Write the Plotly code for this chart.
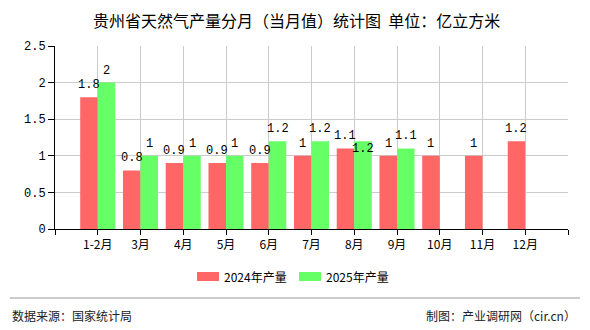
import plotly.graph_objects as go

# Monthly natural gas output of Guizhou (100 million m³)
months = ["1-2月", "3月", "4月", "5月", "6月", "7月", "8月", "9月", "10月", "11月", "12月"]
output_2024 = [1.8, 0.8, 0.9, 0.9, 0.9, 1, 1.1, 1, 1, 1, 1.2]
output_2025 = [2, 1, 1, 1, 1.2, 1.2, 1.2, 1.1, None, None, None]
series_names = ["2024年产量", "2025年产量"]
y_ticks = [0, 0.5, 1, 1.5, 2, 2.5]

RED = "#FF6666"
GREEN = "#66FF66"
CJK = "Noto Sans CJK SC"
MONO = "Liberation Mono"

W, H = 590, 330
L, R, T, B = 55, 22, 46, 101
plot_w = W - L - R
plot_h = H - T - B
bargap = 0.18
x_pos = list(range(len(months)))
cat_px = plot_w / (len(months) + 1)
half_bar = cat_px * (1 - bargap) / 4

# labels that sit inside the bar top instead of above it
inside_labels = {(6, 1)}

fig = go.Figure()
for vals, name, color in [(output_2024, series_names[0], RED), (output_2025, series_names[1], GREEN)]:
    fig.add_trace(go.Bar(x=x_pos, y=vals, name=name, marker=dict(color=color, line=dict(width=0)),
                         showlegend=False))

annotations = []
for s, vals in enumerate([output_2024, output_2025]):
    for i, v in enumerate(vals):
        if v is None:
            continue
        inside = (i, s) in inside_labels
        annotations.append(dict(
            x=x_pos[i], y=v, xref="x", yref="y", text=f"{v:g}", showarrow=False,
            xshift=(-half_bar if s == 0 else half_bar), yshift=(-8 if inside else 12),
            font=dict(family=MONO, size=12, color="#000"),
        ))

def px_x(p):
    return (p - L) / plot_w

def px_y(p):
    return (H - B - p) / plot_h

# title
annotations.append(dict(x=px_x(296), y=px_y(20), xref="paper", yref="paper",
                        text="贵州省天然气产量分月（当月值）统计图&nbsp;&nbsp;单位：亿立方米", showarrow=False,
                        font=dict(family=CJK, size=16, color="#000"), xanchor="center", yanchor="middle"))

# legend
shapes = []
for x0, color, name in [(197, RED, series_names[0]), (299, GREEN, series_names[1])]:
    shapes.append(dict(type="rect", xref="paper", yref="paper", x0=px_x(x0), x1=px_x(x0 + 22),
                       y0=px_y(281), y1=px_y(272), fillcolor=color, line=dict(width=0)))
    annotations.append(dict(x=px_x(x0 + 25), y=px_y(276.5), xref="paper", yref="paper", text=name,
                            showarrow=False, xanchor="left", yanchor="middle",
                            font=dict(family=CJK, size=12, color="#000")))

# footer
shapes.append(dict(type="line", xref="paper", yref="paper", x0=px_x(10), x1=px_x(580),
                   y0=px_y(298), y1=px_y(298), line=dict(color="#999", width=1)))
annotations.append(dict(x=px_x(10), y=px_y(315), xref="paper", yref="paper", text="数据来源：国家统计局",
                        showarrow=False, xanchor="left", yanchor="middle",
                        font=dict(family=CJK, size=12, color="#222")))
annotations.append(dict(x=px_x(578), y=px_y(315), xref="paper", yref="paper", text="制图：产业调研网（cir.cn）",
                        showarrow=False, xanchor="right", yanchor="middle",
                        font=dict(family=CJK, size=12, color="#222")))

fig.update_layout(
    width=W, height=H, margin=dict(l=L, r=R, t=T, b=B),
    paper_bgcolor="white", plot_bgcolor="white",
    barmode="group", bargap=bargap, bargroupgap=0,
    annotations=annotations, shapes=shapes,
    xaxis=dict(range=[-1, len(months)], tickmode="array",
               tickvals=list(range(-1, len(months) + 1)),
               ticktext=[""] + months + [""],
               showgrid=True, gridcolor="#CCCCCC", gridwidth=1,
               showline=True, linecolor="#000", linewidth=1,
               ticks="outside", ticklen=5, tickcolor="#000",
               tickfont=dict(family=CJK, size=12, color="#000"), zeroline=False),
    yaxis=dict(range=[0, 2.5], tickmode="array", tickvals=y_ticks,
               ticktext=[f"{t:g}" for t in y_ticks],
               showgrid=True, gridcolor="#CCCCCC", gridwidth=1,
               showline=True, linecolor="#000", linewidth=1,
               ticks="outside", ticklen=6, tickcolor="#000",
               tickfont=dict(family=MONO, size=12, color="#000"), zeroline=False),
)

fig.write_html("out.html")
